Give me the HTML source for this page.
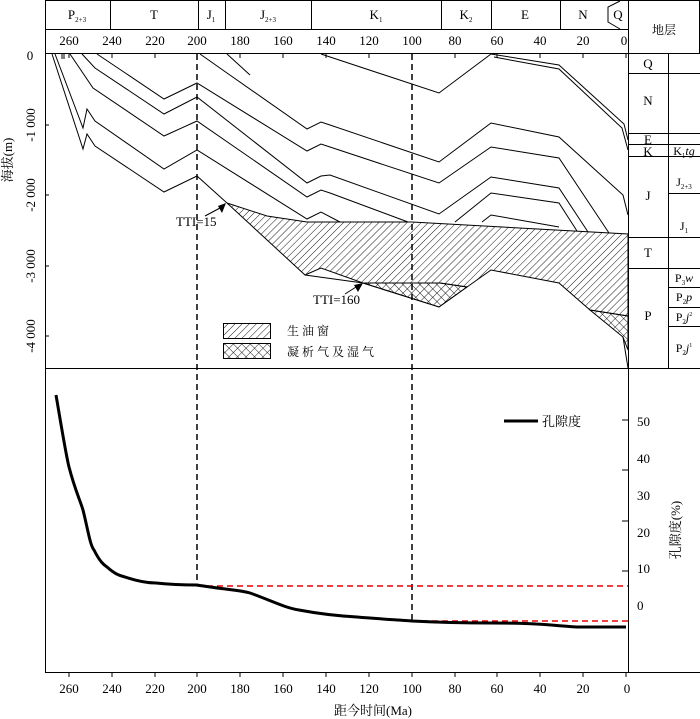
<!DOCTYPE html>
<html><head><meta charset="utf-8"><style>
html,body{margin:0;padding:0;background:#fff;}
svg{display:block;font-family:"Liberation Serif","Noto Serif CJK SC",serif;}
</style></head><body>
<svg width="700" height="719" viewBox="0 0 700 719" xmlns="http://www.w3.org/2000/svg">
<defs>
<pattern id="hat" patternUnits="userSpaceOnUse" width="5" height="5" patternTransform="rotate(45)">
<line x1="0" y1="0" x2="0" y2="5" stroke="#000" stroke-width="0.9"/></pattern>
<pattern id="cross" patternUnits="userSpaceOnUse" width="6" height="6" patternTransform="rotate(45)">
<line x1="0" y1="0" x2="0" y2="6" stroke="#000" stroke-width="0.9"/><line x1="0" y1="0" x2="6" y2="0" stroke="#000" stroke-width="0.9"/></pattern>
</defs>
<g fill="none" stroke="#000" stroke-width="1">
<rect x="45.5" y="0.5" width="654" height="53"/>
<line x1="45" y1="29.5" x2="628" y2="29.5"/>
<line x1="628.5" y1="0" x2="628.5" y2="672"/>
<line x1="110.5" y1="0" x2="110.5" y2="29"/><line x1="198.5" y1="0" x2="198.5" y2="29"/>
<line x1="225.5" y1="0" x2="225.5" y2="29"/><line x1="311.5" y1="0" x2="311.5" y2="29"/>
<line x1="441.5" y1="0" x2="441.5" y2="29"/><line x1="491.5" y1="0" x2="491.5" y2="29"/>
<line x1="560.5" y1="0" x2="560.5" y2="29"/>
<polyline points="620,1 608,7 608,22 620,29"/>
<line x1="45.5" y1="53" x2="45.5" y2="672"/>
<line x1="45" y1="368.5" x2="700" y2="368.5"/>
<line x1="45" y1="672.5" x2="700" y2="672.5"/>
<line x1="628" y1="73.5" x2="700" y2="73.5"/><line x1="628" y1="133.5" x2="700" y2="133.5"/>
<line x1="628" y1="144.5" x2="700" y2="144.5"/><line x1="628" y1="156.5" x2="700" y2="156.5"/>
<line x1="668" y1="193.5" x2="700" y2="193.5"/><line x1="628" y1="237.5" x2="700" y2="237.5"/>
<line x1="628" y1="268.5" x2="700" y2="268.5"/><line x1="668" y1="287.5" x2="700" y2="287.5"/>
<line x1="668" y1="307.5" x2="700" y2="307.5"/><line x1="668" y1="326.5" x2="700" y2="326.5"/>
<line x1="668.5" y1="53" x2="668.5" y2="368"/>
<path d="M69 54v4M112 54v4M155 54v4M197 54v4M240 54v4M283 54v4M326 54v4M369 54v4M412 54v4M455 54v4M497 54v4M540 54v4M583 54v4M626 54v4M62 54v5M64 54v5"/>
<path d="M45 125h4M45 195h4M45 266h4M45 336h4"/>
</g>
<polygon points="227,203 267,216 307,222 412,222 628,234 628,316 590,310 559,283 491,270 467,287 440,283 363,283 321,268 305,275" fill="url(#hat)" stroke="#000" stroke-width="1"/>
<polygon points="363,283 440,283 467,287 439,307" fill="url(#cross)" stroke="#000" stroke-width="1"/>
<polygon points="590,310 628,316 628,350 623,337" fill="url(#cross)" stroke="#000" stroke-width="1"/>
<g fill="none" stroke="#000" stroke-width="1">
<polyline points="305,275 363,283 439,307 467,287"/>
<polyline points="623,337 628,368"/>
<polyline points="97,54 164,99 197,83 307,151 321,144 330,147 439,183 491,147 559,158 609,233"/>
<polyline points="82,54 95,68 164,114 197,97 307,183 321,176 330,175 439,214 491,177 559,188 588,232"/>
<polyline points="70,54 93,88 164,136 197,121 307,197 321,190 330,193 408,222"/>
<polyline points="55,54 83,128 87,109 95,121 164,169 197,150 307,219 321,212 340,222"/>
<polyline points="52,54 83,149 87,134 95,146 164,192 197,176 227,203"/>
<polyline points="200,54 227,73 307,129 321,122 330,125 439,162 491,123 559,137 623,195 628,215"/>
<polyline points="227,54 250,75"/>
<polyline points="455,222 491,193 559,203 577,231"/>
<polyline points="482,222 491,215 559,227"/>
<polyline points="321,54 439,93 491,54 559,65 624,124 628,140"/>
<polyline points="494,57 559,69 622,128 628,150"/>
<rect x="223.5" y="323.5" width="47" height="15" fill="url(#hat)"/>
<rect x="223.5" y="343.5" width="47" height="15" fill="url(#cross)"/>
<line x1="205" y1="216" x2="220" y2="208"/>
<line x1="345" y1="294" x2="356" y2="287"/>
<line x1="197" y1="54" x2="197" y2="585" stroke-dasharray="6,4" stroke-width="1.5"/>
<line x1="412" y1="54" x2="412" y2="621" stroke-dasharray="6,4" stroke-width="1.5"/>
<line x1="197" y1="586" x2="628" y2="586" stroke="#e00" stroke-dasharray="6,4" stroke-width="1.5"/>
<line x1="412" y1="621" x2="628" y2="621" stroke="#e00" stroke-dasharray="6,4" stroke-width="1.5"/>
<path d="M56,395 C62,430 66,455 69,467 C75,490 80,500 83,510 C88,530 90,545 94,550 C100,562 104,565 107,567 C115,574 118,575 125,577 C140,582 150,583 156,583 C175,585 185,585 197,585 C220,589 240,590 250,593 C270,600 285,608 299,610 C320,614 340,616 357,617 C380,619 400,620 412,621 C450,623 470,623 491,623 C515,623 525,623 536,624 C555,625 570,627 580,627 L626,627" stroke-width="3"/>
<line x1="504" y1="421" x2="538" y2="421" stroke-width="3"/>
<path d="M622 420h6M622 470h6M622 521h6M622 571h6"/>
<path d="M69 672v5M112 672v5M155 672v5M197 672v5M240 672v5M283 672v5M326 672v5M369 672v5M412 672v5M455 672v5M497 672v5M540 672v5M583 672v5M626 672v5"/>
</g>
<polygon points="218,206 226,203 222,213" fill="#000"/>
<polygon points="354,285 363,283 358,292" fill="#000"/>
<g font-size="13" fill="#000" text-anchor="middle">
<text x="77" y="19">P<tspan font-size="7" dy="3">2+3</tspan></text>
<text x="154" y="19">T</text>
<text x="211" y="19">J<tspan font-size="7" dy="3">1</tspan></text>
<text x="268" y="19">J<tspan font-size="7" dy="3">2+3</tspan></text>
<text x="376" y="19">K<tspan font-size="7" dy="3">1</tspan></text>
<text x="466" y="19">K<tspan font-size="7" dy="3">2</tspan></text>
<text x="525" y="19">E</text>
<text x="583" y="19">N</text>
<text x="618" y="19">Q</text>
<text x="664" y="34" font-size="12">地层</text>
<g font-size="13">
<text x="69" y="45">260</text><text x="112" y="45">240</text><text x="155" y="45">220</text><text x="197" y="45">200</text><text x="240" y="45">180</text><text x="283" y="45">160</text><text x="326" y="45">140</text><text x="369" y="45">120</text><text x="412" y="45">100</text><text x="455" y="45">80</text><text x="497" y="45">60</text><text x="540" y="45">40</text><text x="583" y="45">20</text><text x="624" y="45">0</text>
</g>
<g font-size="13">
<text x="69" y="693">260</text><text x="112" y="693">240</text><text x="155" y="693">220</text><text x="197" y="693">200</text><text x="240" y="693">180</text><text x="283" y="693">160</text><text x="326" y="693">140</text><text x="369" y="693">120</text><text x="412" y="693">100</text><text x="455" y="693">80</text><text x="497" y="693">60</text><text x="540" y="693">40</text><text x="583" y="693">20</text><text x="627" y="693">0</text>
</g>
<text x="373" y="715" font-size="13">距今时间(Ma)</text>
<text x="30" y="60">0</text>
<text transform="translate(35,125) rotate(-90)">-1 000</text>
<text transform="translate(35,195) rotate(-90)">-2 000</text>
<text transform="translate(35,266) rotate(-90)">-3 000</text>
<text transform="translate(35,336) rotate(-90)">-4 000</text>
<text transform="translate(12,160) rotate(-90)" font-size="13">海拔(m)</text>
<text x="648" y="68">Q</text><text x="648" y="105">N</text><text x="648" y="144">E</text><text x="648" y="156">K</text>
<text x="648" y="200">J</text><text x="648" y="257">T</text><text x="648" y="320">P</text>
<text x="684" y="155" font-size="12">K<tspan font-size="7" dy="3">1</tspan><tspan dy="-3" font-style="italic">tg</tspan></text>
<text x="684" y="186" font-size="12">J<tspan font-size="7" dy="3">2+3</tspan></text>
<text x="684" y="230" font-size="12">J<tspan font-size="7" dy="3">1</tspan></text>
<text x="684" y="282" font-size="12">P<tspan font-size="7" dy="3">3</tspan><tspan dy="-3" font-style="italic">w</tspan></text>
<text x="684" y="301" font-size="12">P<tspan font-size="7" dy="3">2</tspan><tspan dy="-3" font-style="italic">p</tspan></text>
<text x="684" y="321" font-size="12">P<tspan font-size="7" dy="3">2</tspan><tspan dy="-3" font-style="italic">j</tspan><tspan font-size="6" dy="-5">2</tspan></text>
<text x="684" y="352" font-size="12">P<tspan font-size="7" dy="3">2</tspan><tspan dy="-3" font-style="italic">j</tspan><tspan font-size="6" dy="-5">1</tspan></text>
<g text-anchor="start">
<text x="176" y="226">TTI=15</text>
<text x="313" y="304">TTI=160</text>
<text x="287" y="335" font-size="12" letter-spacing="3">生油窗</text>
<text x="287" y="356" font-size="12" letter-spacing="3">凝析气及湿气</text>
<text x="542" y="426" font-size="13">孔隙度</text>
<text x="637" y="426">50</text><text x="637" y="463">40</text><text x="637" y="500">30</text><text x="637" y="537">20</text><text x="637" y="573">10</text><text x="637" y="610">0</text>
</g>
<text transform="translate(680,530) rotate(-90)" font-size="13">孔隙度(%)</text>
</g>
</svg>
</body></html>
